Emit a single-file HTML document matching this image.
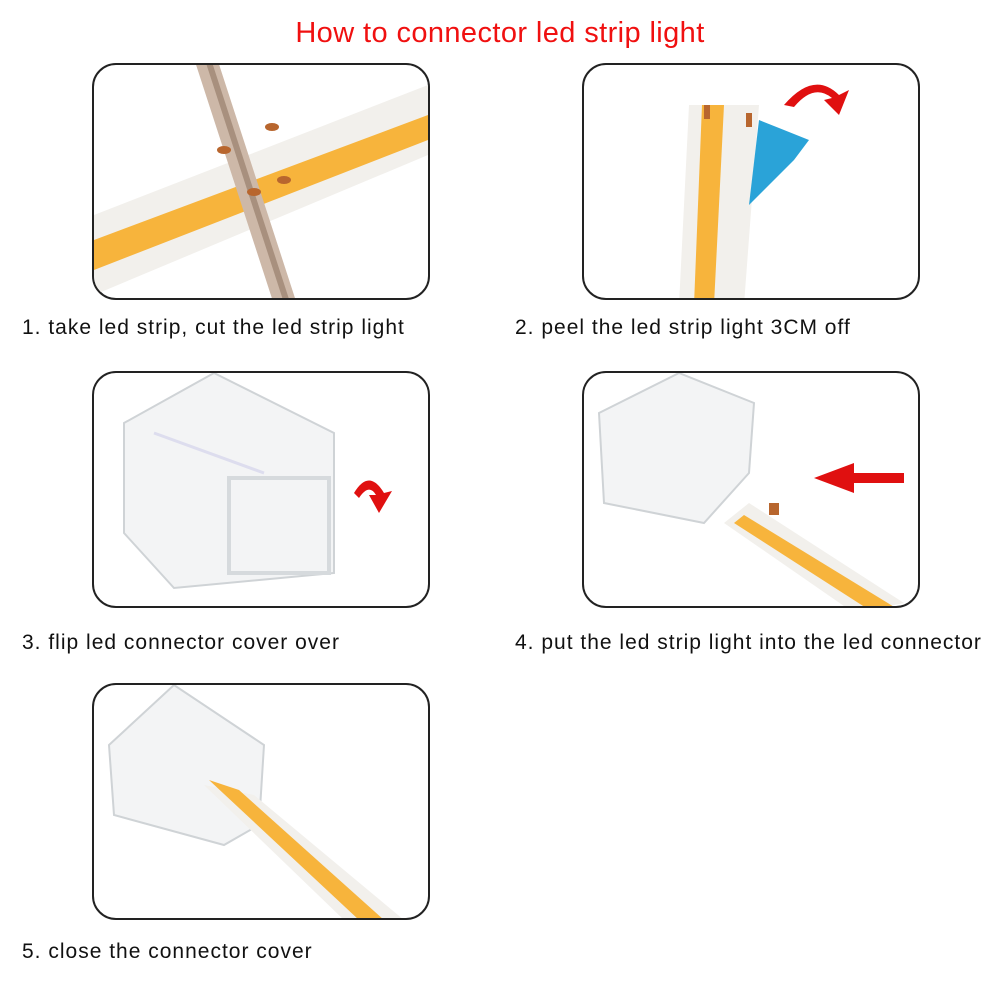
<!DOCTYPE html>
<html><head><meta charset="utf-8"><style>
body{margin:0;width:1000px;height:1000px;background:#fff;position:relative;font-family:"Liberation Sans",sans-serif;overflow:hidden}
.t{position:absolute;left:0;width:1000px;text-align:center;top:17px;color:#f01010;font-size:29px;letter-spacing:0.4px}
.box{position:absolute;width:334px;height:233px;border:2px solid #222;border-radius:24px;overflow:hidden;background:#fff}
.c{position:absolute;font-size:21px;letter-spacing:1px;color:#111}
svg{position:absolute;left:0;top:0}
</style></head><body>
<div class="t">How to connector led strip light</div>

<div class="box" style="left:92px;top:63px"><svg width="334" height="233">
<polygon points="0,150 334,20 334,90 0,230" fill="#f2f0ec"/>
<polygon points="0,175 334,50 334,75 0,205" fill="#f7b43c"/>
<rect x="140" y="-10" width="22" height="260" fill="#cdb8a8" transform="rotate(-18 150 115)"/>
<rect x="150" y="-10" width="6" height="260" fill="#a8907e" transform="rotate(-18 150 115)"/>
<ellipse cx="130" cy="85" rx="7" ry="4" fill="#b8662e"/><ellipse cx="178" cy="62" rx="7" ry="4" fill="#b8662e"/>
<ellipse cx="190" cy="115" rx="7" ry="4" fill="#b8662e"/><ellipse cx="160" cy="127" rx="7" ry="4" fill="#b8662e"/>
</svg></div>

<div class="box" style="left:582px;top:63px"><svg width="334" height="233">
<polygon points="105,40 175,40 160,240 95,240" fill="#f2f0ec"/>
<polygon points="118,40 140,40 130,240 110,240" fill="#f7b43c"/>
<polygon points="175,55 225,75 210,95 165,140" fill="#2aa3d8"/>
<rect x="120" y="40" width="6" height="14" fill="#b8662e"/><rect x="162" y="48" width="6" height="14" fill="#b8662e"/>
<path d="M200,40 Q230,5 255,30 L265,25 L255,50 L240,35 L248,33 Q230,18 210,42 Z" fill="#e01010"/>
</svg></div>

<div class="box" style="left:92px;top:371px"><svg width="334" height="233">
<polygon points="30,50 120,0 240,60 240,200 80,215 30,160" fill="#f3f4f5" stroke="#cfd3d6" stroke-width="2"/>
<rect x="135" y="105" width="100" height="95" fill="none" stroke="#d6dadd" stroke-width="4"/>
<line x1="60" y1="60" x2="170" y2="100" stroke="#dde" stroke-width="3"/>
<path d="M260,120 Q275,95 290,120 L298,118 L285,140 L275,122 L282,122 Q275,110 265,125 Z" fill="#e01010"/>
</svg></div>

<div class="box" style="left:582px;top:371px"><svg width="334" height="233">
<polygon points="15,40 95,0 170,30 165,100 120,150 20,130" fill="#f3f4f5" stroke="#cfd3d6" stroke-width="2"/>
<polygon points="140,150 165,130 320,230 270,240" fill="#f2f0ec"/>
<polygon points="150,150 160,142 320,240 290,240" fill="#f7b43c"/>
<rect x="185" y="130" width="10" height="12" fill="#b8662e"/>
<polygon points="230,105 270,90 270,100 320,100 320,110 270,110 270,120" fill="#e01010"/>
</svg></div>

<div class="box" style="left:92px;top:683px"><svg width="334" height="233">
<polygon points="15,60 80,0 170,60 165,140 130,160 20,130" fill="#f3f4f5" stroke="#cfd3d6" stroke-width="2"/>
<polygon points="110,100 160,110 310,235 250,235" fill="#f2f0ec"/>
<polygon points="115,95 145,105 290,235 265,235" fill="#f7b43c"/>
</svg></div>

<div class="c" style="left:22px;top:316px">1. take led strip, cut the led strip light</div>
<div class="c" style="left:515px;top:316px">2. peel the led strip light 3CM off</div>
<div class="c" style="left:22px;top:631px">3. flip led connector cover over</div>
<div class="c" style="left:515px;top:631px">4. put the led strip light into the led connector</div>
<div class="c" style="left:22px;top:940px">5. close the connector cover</div>
</body></html>
